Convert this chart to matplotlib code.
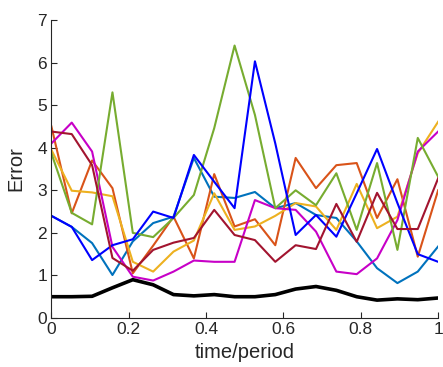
""" error_vs_time.py """

import numpy as np
import matplotlib
matplotlib.use("Agg")
import matplotlib.pyplot as plt

plt.rcParams['font.family'] = ['Liberation Sans', 'DejaVu Sans']

# 20 samples over one period
t = np.linspace(0, 1, 20)

err_lightblue = [2.40, 2.14, 1.76, 1.01, 1.80, 2.23, 2.38, 3.76, 2.85, 2.82,
                 2.96, 2.58, 2.70, 2.42, 2.35, 1.80, 1.17, 0.82, 1.09, 1.68]
err_orange = [4.50, 2.46, 3.70, 3.05, 1.05, 1.70, 2.38, 1.40, 3.38, 2.15,
              2.32, 1.71, 3.76, 3.05, 3.59, 3.64, 2.35, 3.26, 1.44, 3.00]
err_yellow = [3.95, 2.99, 2.95, 2.86, 1.32, 1.09, 1.56, 1.82, 2.93, 2.07,
              2.15, 2.40, 2.70, 2.62, 2.07, 3.15, 2.11, 2.38, 3.87, 4.61]
err_magenta = [4.10, 4.59, 3.91, 1.67, 0.97, 0.88, 1.09, 1.35, 1.32, 1.32,
               2.77, 2.58, 2.54, 2.03, 1.09, 1.03, 1.40, 2.30, 3.91, 4.38]
err_green = [3.87, 2.47, 2.20, 5.30, 2.00, 1.90, 2.35, 2.89, 4.46, 6.40,
             4.77, 2.58, 3.00, 2.65, 3.40, 2.07, 3.64, 1.60, 4.23, 3.32]
err_blue = [2.40, 2.14, 1.36, 1.71, 1.85, 2.50, 2.35, 3.83, 3.20, 2.58,
            6.03, 4.10, 1.95, 2.42, 1.91, 2.93, 3.97, 2.70, 1.50, 1.32]
err_darkred = [4.38, 4.32, 3.59, 1.41, 1.11, 1.60, 1.77, 1.88, 2.54, 1.95,
               1.83, 1.32, 1.71, 1.62, 2.68, 1.79, 2.94, 2.09, 2.09, 3.28]
err_mean = [0.50, 0.50, 0.51, 0.71, 0.90, 0.78, 0.55, 0.52, 0.55, 0.50,
            0.50, 0.55, 0.68, 0.74, 0.65, 0.50, 0.42, 0.45, 0.43, 0.47]

series = [
    (err_lightblue, (0.0, 0.447, 0.741)),
    (err_orange, (0.85, 0.325, 0.098)),
    (err_yellow, (0.929, 0.694, 0.125)),
    (err_magenta, (0.78, 0.0, 0.78)),
    (err_green, (0.466, 0.674, 0.188)),
    (err_blue, (0.0, 0.0, 1.0)),
    (err_darkred, (0.635, 0.078, 0.184)),
]

fig = plt.figure(figsize=(4.43, 3.67), dpi=100)
ax = fig.add_axes([0.116, 0.1335, 0.873, 0.812])

for vals, col in series:
    ax.plot(t, vals, color=col, lw=1.5)
ax.plot(t, err_mean, color='k', lw=2.6)

ax.set_xlim(0, 1)
ax.set_ylim(0, 7)
ax.set_xticks([0, 0.2, 0.4, 0.6, 0.8, 1])
ax.set_xticklabels(['0', '0.2', '0.4', '0.6', '0.8', '1'])
ax.set_yticks(range(8))

grey = (0.15, 0.15, 0.15)
for side in ['top', 'right']:
    ax.spines[side].set_visible(False)
for side in ['left', 'bottom']:
    ax.spines[side].set_color(grey)
    ax.spines[side].set_linewidth(0.8)
ax.tick_params(direction='in', length=4, width=0.8, colors=grey,
               labelsize=12.5, pad=3)

ax.set_xlabel('time/period', fontsize=14.5, color=grey, labelpad=4)
ax.set_ylabel('Error', fontsize=14.5, color=grey, labelpad=9)

fig.savefig('out.png', dpi=100)
